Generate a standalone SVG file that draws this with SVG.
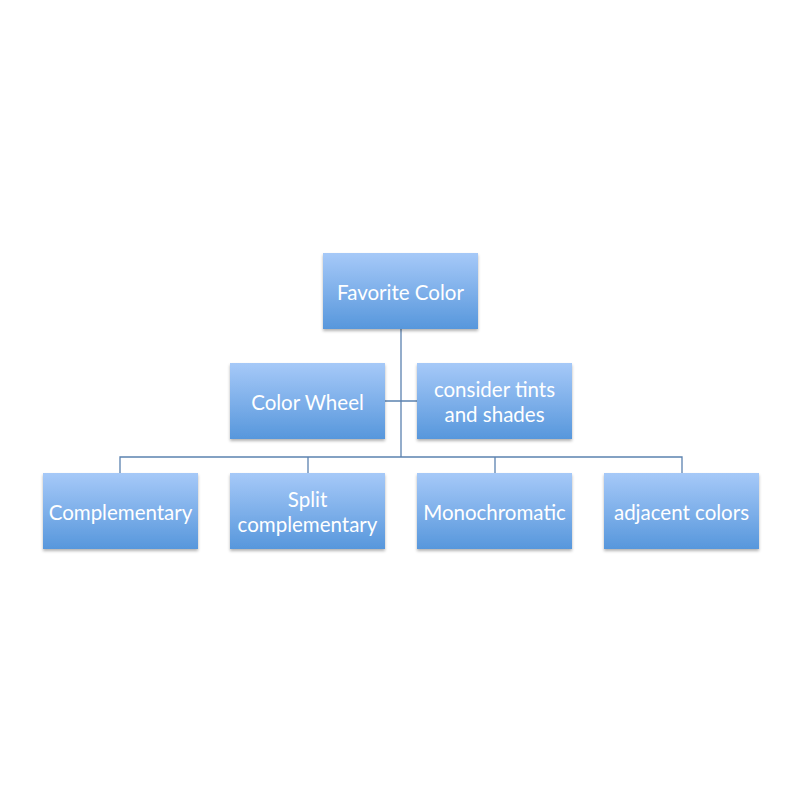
<svg xmlns="http://www.w3.org/2000/svg" width="800" height="800" viewBox="0 0 800 800">
<defs>
<linearGradient id="g" x1="0" y1="0" x2="0" y2="1">
<stop offset="0" stop-color="#a6c9f8"/>
<stop offset="1" stop-color="#5797dc"/>
</linearGradient>
<filter id="sh" x="-10%" y="-10%" width="120%" height="130%">
<feDropShadow dx="0" dy="2" stdDeviation="1.5" flood-color="#000" flood-opacity="0.3"/>
</filter>
</defs>
<style>
.box{fill:url(#g);filter:url(#sh)}
.t{fill:#fff;font-family:Lato,"Open Sans","Liberation Sans",sans-serif;font-size:20.5px;text-anchor:middle}
.c{fill:none;stroke:#5b82b0;stroke-width:1.3}
</style>
<rect width="800" height="800" fill="#fff"/>
<g id="connectors">
<path class="c" d="M401 329 V457 M120 473 V457 H682 V473 M308 457 V473 M495 457 V473 M385 401 H417"/>
</g>
<g id="favorite"><rect class="box" x="323" y="253" width="155" height="76"/><text class="t" x="400.5" y="300">Favorite Color</text></g>
<g id="wheel"><rect class="box" x="230" y="363" width="155" height="76"/><text class="t" x="307.5" y="410">Color Wheel</text></g>
<g id="tints"><rect class="box" x="417" y="363" width="155" height="76"/><text class="t" x="494.5" y="397">consider tints</text><text class="t" x="494.5" y="421.7">and shades</text></g>
<g id="comp"><rect class="box" x="43" y="473" width="155" height="76"/><text class="t" x="120.5" y="520">Complementary</text></g>
<g id="split"><rect class="box" x="230" y="473" width="155" height="76"/><text class="t" x="307.5" y="507">Split</text><text class="t" x="307.5" y="531.7">complementary</text></g>
<g id="mono"><rect class="box" x="417" y="473" width="155" height="76"/><text class="t" x="494.5" y="520">Monochromatic</text></g>
<g id="adj"><rect class="box" x="604" y="473" width="155" height="76"/><text class="t" x="681.5" y="520">adjacent colors</text></g>
</svg>
